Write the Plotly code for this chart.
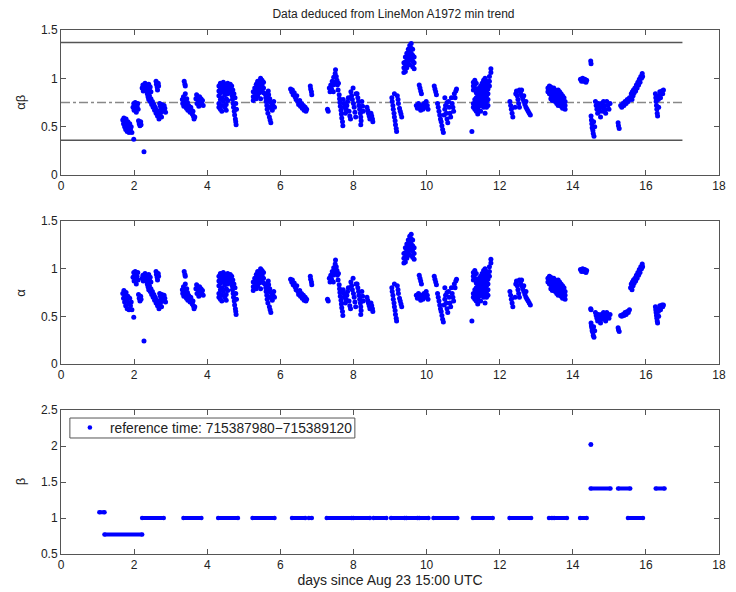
import plotly.graph_objects as go

title_text = "Data deduced from LineMon A1972 min trend"
x_label = "days since Aug 23 15:00 UTC"
legend_text = "reference time: 715387980\u2212715389120"
x_ticks = [0, 2, 4, 6, 8, 10, 12, 14, 16, 18]

# (day, value) points where beta == 1: identical in the alpha*beta and alpha panels
shared_pts = [
    (2.27, 0.24),
    (2.22, 0.90), (2.24, 0.93), (2.25, 0.87), (2.28, 0.91), (2.30, 0.95), (2.32, 0.88), (2.34, 0.92),
    (2.36, 0.86), (2.38, 0.90), (2.40, 0.94), (2.42, 0.88), (2.44, 0.91), (2.46, 0.86),
    (2.36, 0.84), (2.38, 0.81), (2.40, 0.78), (2.42, 0.82), (2.44, 0.76), (2.46, 0.79), (2.48, 0.73),
    (2.50, 0.76), (2.52, 0.70), (2.54, 0.73), (2.56, 0.67), (2.58, 0.70), (2.60, 0.64), (2.62, 0.67),
    (2.64, 0.61), (2.66, 0.64), (2.68, 0.58), (2.70, 0.61), (2.72, 0.64), (2.75, 0.60), (2.78, 0.66),
    (2.60, 0.97), (2.61, 0.94), (2.63, 0.91), (2.64, 0.88), (2.66, 0.95), (2.67, 0.92),
    (2.70, 0.74), (2.72, 0.71), (2.74, 0.68), (2.76, 0.73), (2.78, 0.70), (2.80, 0.67), (2.82, 0.72),
    (2.84, 0.69), (2.86, 0.65),
    (3.37, 0.97), (3.39, 0.94), (3.40, 0.92),
    (3.32, 0.78), (3.33, 0.74), (3.35, 0.81), (3.36, 0.71), (3.38, 0.77), (3.40, 0.84), (3.41, 0.73),
    (3.43, 0.69), (3.44, 0.79), (3.46, 0.75), (3.47, 0.67), (3.49, 0.72), (3.51, 0.69), (3.53, 0.65),
    (3.55, 0.70), (3.57, 0.67), (3.59, 0.63), (3.61, 0.66),
    (3.62, 0.61), (3.64, 0.58), (3.66, 0.60),
    (3.69, 0.79), (3.71, 0.83), (3.72, 0.74), (3.74, 0.80), (3.76, 0.77), (3.77, 0.71), (3.79, 0.81),
    (3.81, 0.76), (3.83, 0.79), (3.85, 0.74), (3.87, 0.77), (3.89, 0.72),
    (4.32, 0.92), (4.32, 0.87), (4.32, 0.82), (4.32, 0.74), (4.32, 0.70),
    (4.36, 0.95), (4.36, 0.90), (4.36, 0.85), (4.36, 0.78), (4.36, 0.68),
    (4.40, 0.93), (4.40, 0.88), (4.40, 0.80), (4.40, 0.72), (4.40, 0.66),
    (4.44, 0.96), (4.44, 0.91), (4.44, 0.86), (4.44, 0.76),
    (4.48, 0.94), (4.48, 0.89), (4.48, 0.83), (4.48, 0.70),
    (4.52, 0.92), (4.52, 0.86), (4.52, 0.79), (4.52, 0.73), (4.52, 0.67),
    (4.56, 0.95), (4.56, 0.90), (4.56, 0.84), (4.56, 0.77),
    (4.60, 0.93), (4.60, 0.88),
    (4.63, 0.94), (4.64, 0.90), (4.65, 0.86), (4.67, 0.92), (4.68, 0.82), (4.69, 0.78), (4.70, 0.88),
    (4.71, 0.74), (4.72, 0.70), (4.73, 0.84), (4.74, 0.66), (4.75, 0.62), (4.76, 0.80), (4.77, 0.58),
    (4.78, 0.55), (4.79, 0.52), (4.78, 0.74), (4.80, 0.68),
    (5.26, 0.86), (5.26, 0.81), (5.26, 0.77),
    (5.30, 0.90), (5.30, 0.85), (5.30, 0.80),
    (5.34, 0.94), (5.34, 0.89), (5.34, 0.84), (5.34, 0.79),
    (5.38, 0.97), (5.38, 0.92), (5.38, 0.87), (5.38, 0.82),
    (5.42, 0.95), (5.42, 0.90), (5.42, 0.85),
    (5.46, 1.00), (5.46, 0.96), (5.46, 0.91), (5.46, 0.86), (5.46, 0.79),
    (5.50, 0.98), (5.50, 0.93), (5.50, 0.88),
    (5.54, 0.96), (5.54, 0.90), (5.54, 0.85),
    (5.58, 0.84), (5.60, 0.80), (5.61, 0.76), (5.63, 0.72), (5.64, 0.68), (5.66, 0.64), (5.67, 0.87),
    (5.68, 0.83), (5.70, 0.60), (5.71, 0.79), (5.72, 0.57), (5.74, 0.54), (5.74, 0.75), (5.76, 0.71),
    (5.78, 0.67), (5.80, 0.72), (5.82, 0.76), (5.84, 0.70), (5.70, 0.70), (5.66, 0.76),
    (6.28, 0.89), (6.31, 0.86), (6.33, 0.88), (6.35, 0.83), (6.38, 0.85), (6.40, 0.81), (6.43, 0.78),
    (6.45, 0.82), (6.48, 0.76), (6.50, 0.73), (6.53, 0.77), (6.55, 0.71), (6.58, 0.74), (6.60, 0.69),
    (6.63, 0.72), (6.65, 0.67), (6.68, 0.70), (6.70, 0.66), (6.72, 0.68),
    (6.82, 0.92), (6.83, 0.89), (6.85, 0.86), (6.86, 0.83),
    (7.29, 0.68), (7.31, 0.66),
    (7.34, 0.90), (7.36, 0.86), (7.38, 0.93), (7.40, 0.89), (7.42, 0.97), (7.44, 0.93), (7.46, 1.01),
    (7.48, 0.96), (7.50, 1.05), (7.51, 1.09), (7.53, 1.02), (7.55, 0.98), (7.56, 0.93), (7.58, 0.88),
    (7.59, 0.95), (7.45, 0.86),
    (7.61, 0.83), (7.62, 0.79), (7.63, 0.75), (7.64, 0.71), (7.66, 0.67), (7.67, 0.63), (7.68, 0.59),
    (7.70, 0.55), (7.71, 0.51), (7.72, 0.78), (7.74, 0.74), (7.75, 0.70),
    (7.78, 0.64), (7.80, 0.68), (7.82, 0.72), (7.84, 0.76), (7.86, 0.80), (7.88, 0.66), (7.90, 0.61),
    (7.92, 0.58), (7.93, 0.86), (7.95, 0.82), (7.97, 0.78), (7.99, 0.90), (8.00, 0.74), (8.02, 0.70),
    (8.04, 0.65), (8.06, 0.60), (8.07, 0.84),
    (8.10, 0.84), (8.12, 0.80), (8.14, 0.76), (8.15, 0.72), (8.17, 0.68), (8.19, 0.64), (8.20, 0.60),
    (8.21, 0.56), (8.20, 0.52), (8.23, 0.76), (8.25, 0.71), (8.27, 0.66),
    (8.37, 0.70), (8.39, 0.67), (8.41, 0.64), (8.43, 0.61), (8.45, 0.58), (8.48, 0.64), (8.50, 0.61),
    (8.52, 0.58), (8.53, 0.55),
    (9.05, 0.80), (9.06, 0.76), (9.08, 0.72), (9.09, 0.68), (9.11, 0.64), (9.12, 0.60), (9.14, 0.56),
    (9.15, 0.52), (9.17, 0.48), (9.18, 0.45), (9.12, 0.84), (9.20, 0.82), (9.22, 0.78), (9.23, 0.74),
    (9.26, 0.69), (9.28, 0.66), (9.30, 0.63), (9.32, 0.60),
    (9.38, 1.16), (9.38, 1.11), (9.38, 1.06),
    (9.42, 1.22), (9.42, 1.17), (9.42, 1.12), (9.42, 1.07),
    (9.46, 1.26), (9.46, 1.21), (9.46, 1.16), (9.46, 1.11),
    (9.50, 1.30), (9.50, 1.25), (9.50, 1.20), (9.50, 1.15),
    (9.54, 1.34), (9.54, 1.29), (9.54, 1.24), (9.54, 1.19), (9.54, 1.14),
    (9.58, 1.36), (9.58, 1.31), (9.58, 1.26), (9.58, 1.21),
    (9.62, 1.30), (9.62, 1.24), (9.62, 1.18), (9.62, 1.12),
    (9.66, 1.22), (9.66, 1.16), (9.66, 1.10),
    (9.80, 0.93), (9.82, 0.90), (9.84, 0.87), (9.86, 0.84),
    (9.72, 0.72), (9.75, 0.69), (9.78, 0.74), (9.81, 0.70), (9.84, 0.67), (9.87, 0.72), (9.90, 0.68),
    (9.93, 0.74), (9.96, 0.70), (9.99, 0.76), (10.02, 0.72), (10.04, 0.68),
    (10.21, 0.92), (10.23, 0.89), (10.25, 0.86), (10.27, 0.83),
    (10.30, 0.74), (10.32, 0.70), (10.34, 0.66), (10.36, 0.62), (10.38, 0.58), (10.40, 0.55),
    (10.42, 0.51), (10.44, 0.47), (10.46, 0.44), (10.48, 0.62), (10.50, 0.68), (10.50, 0.80),
    (10.52, 0.72), (10.54, 0.64), (10.56, 0.58), (10.58, 0.54), (10.60, 0.76), (10.62, 0.70),
    (10.64, 0.64), (10.66, 0.60), (10.68, 0.80), (10.70, 0.74), (10.72, 0.70), (10.74, 0.66),
    (10.76, 0.84), (10.78, 0.80), (10.80, 0.87), (10.82, 0.89), (10.56, 0.75),
    (11.24, 0.45),
    (11.28, 0.96), (11.28, 0.92), (11.28, 0.88), (11.28, 0.74), (11.28, 0.70),
    (11.32, 0.98), (11.32, 0.94), (11.32, 0.90), (11.32, 0.78), (11.32, 0.72), (11.32, 0.68),
    (11.36, 0.95), (11.36, 0.85), (11.36, 0.80), (11.36, 0.75), (11.36, 0.70), (11.36, 0.66),
    (11.40, 0.88), (11.40, 0.83), (11.40, 0.78), (11.40, 0.73), (11.40, 0.68), (11.40, 0.63),
    (11.44, 0.90), (11.44, 0.86), (11.44, 0.81), (11.44, 0.76), (11.44, 0.71),
    (11.48, 0.92), (11.48, 0.87), (11.48, 0.82), (11.48, 0.77), (11.48, 0.72), (11.48, 0.66),
    (11.52, 0.95), (11.52, 0.90), (11.52, 0.85), (11.52, 0.80), (11.52, 0.74),
    (11.56, 0.98), (11.56, 0.93), (11.56, 0.88), (11.56, 0.83), (11.56, 0.77), (11.56, 0.70),
    (11.60, 1.00), (11.60, 0.95), (11.60, 0.90), (11.60, 0.85), (11.60, 0.80), (11.60, 0.74), (11.60, 0.64),
    (11.64, 0.97), (11.64, 0.92), (11.64, 0.87), (11.64, 0.82), (11.64, 0.76), (11.64, 0.70),
    (11.68, 0.94), (11.68, 0.89), (11.68, 0.84), (11.68, 0.78), (11.68, 0.72),
    (11.72, 1.02), (11.72, 0.97), (11.72, 0.92),
    (11.76, 1.06), (11.76, 1.10),
    (12.28, 0.76), (12.30, 0.72), (12.32, 0.68), (12.34, 0.64), (12.36, 0.60), (12.42, 0.70),
    (12.44, 0.84), (12.46, 0.87), (12.48, 0.82), (12.50, 0.78), (12.52, 0.74), (12.54, 0.70),
    (12.54, 0.88), (12.57, 0.85), (12.60, 0.82), (12.63, 0.79), (12.66, 0.76), (12.69, 0.73),
    (12.72, 0.70), (12.75, 0.68), (12.78, 0.66), (12.81, 0.64), (12.84, 0.62), (12.60, 0.88),
    (12.66, 0.82), (12.72, 0.76),
    (13.32, 0.90), (13.32, 0.86),
    (13.36, 0.92), (13.36, 0.88), (13.36, 0.84),
    (13.40, 0.91), (13.40, 0.87), (13.40, 0.83), (13.40, 0.79),
    (13.44, 0.89), (13.44, 0.85), (13.44, 0.81), (13.44, 0.77),
    (13.48, 0.90), (13.48, 0.86), (13.48, 0.82), (13.48, 0.78),
    (13.52, 0.88), (13.52, 0.84), (13.52, 0.80), (13.52, 0.76),
    (13.56, 0.86), (13.56, 0.82), (13.56, 0.78), (13.56, 0.74),
    (13.60, 0.88), (13.60, 0.84), (13.60, 0.80), (13.60, 0.76), (13.60, 0.72),
    (13.64, 0.86), (13.64, 0.82), (13.64, 0.78), (13.64, 0.74),
    (13.68, 0.84), (13.68, 0.80), (13.68, 0.76), (13.68, 0.71),
    (13.72, 0.82), (13.72, 0.78), (13.72, 0.74), (13.72, 0.69),
    (13.76, 0.80), (13.76, 0.75), (13.76, 0.70),
    (13.79, 0.76), (13.79, 0.72), (13.79, 0.68),
    (14.21, 0.99), (14.24, 0.97), (14.27, 1.00), (14.30, 0.97), (14.33, 0.99), (14.36, 0.96), (14.38, 0.98),
    (15.58, 0.80), (15.60, 0.84), (15.62, 0.78), (15.63, 0.86), (15.65, 0.82), (15.66, 0.88),
    (15.68, 0.85), (15.70, 0.90), (15.72, 0.87), (15.74, 0.93), (15.76, 0.90), (15.78, 0.96),
    (15.80, 0.93), (15.82, 0.99), (15.84, 0.96), (15.86, 1.02), (15.88, 1.00), (15.90, 1.05), (15.91, 1.02),
]
shared_x = [p[0] for p in shared_pts]
shared_y = [p[1] for p in shared_pts]

# days of the points where beta != 1
other_x = [1.69, 1.71, 1.72, 1.74, 1.75, 1.77, 1.78, 1.80, 1.81, 1.83, 1.85, 1.86, 1.88, 1.90, 1.92, 1.94,
           1.99,
           1.97, 1.99, 2.00, 2.02, 2.03, 2.05, 2.06, 2.08, 2.10, 2.11,
           2.12, 2.14, 2.16, 2.18, 2.19,
           14.49, 14.50,
           14.50, 14.51, 14.52, 14.53, 14.55, 14.56, 14.58, 14.60, 14.57,
           14.62, 14.64, 14.66, 14.68, 14.70, 14.72, 14.74, 14.76, 14.78, 14.80, 14.82, 14.84, 14.86,
           14.88, 14.90, 14.93, 14.96, 14.99, 15.02,
           15.24, 15.25, 15.27,
           15.31, 15.34, 15.37, 15.40, 15.43, 15.46, 15.49, 15.52, 15.55,
           16.26, 16.27, 16.28, 16.29, 16.30, 16.31, 16.32, 16.34, 16.36, 16.38, 16.40, 16.42, 16.44,
           16.46, 16.48, 16.35]
# alpha*beta at those days
ab_other_y = [0.57, 0.53, 0.59, 0.50, 0.55, 0.47, 0.58, 0.52, 0.45, 0.55, 0.49, 0.44, 0.53, 0.47, 0.50, 0.44,
              0.37,
              0.70, 0.74, 0.67, 0.72, 0.75, 0.69, 0.65, 0.71, 0.74, 0.68,
              0.56, 0.53, 0.51, 0.55, 0.52,
              1.18, 1.15,
              0.61, 0.57, 0.53, 0.49, 0.46, 0.43, 0.40, 0.50, 0.55,
              0.76, 0.72, 0.68, 0.64, 0.74, 0.70, 0.66, 0.60, 0.74, 0.70, 0.66, 0.76, 0.72,
              0.68, 0.64, 0.76, 0.72, 0.68, 0.74,
              0.54, 0.51, 0.48,
              0.72, 0.70, 0.74, 0.72, 0.76, 0.74, 0.78, 0.76, 0.80,
              0.84, 0.80, 0.76, 0.72, 0.68, 0.64, 0.61, 0.78, 0.82, 0.86, 0.80, 0.84, 0.87,
              0.84, 0.88, 0.70]
# alpha at those days
a_other_y = [0.74, 0.69, 0.77, 0.65, 0.71, 0.61, 0.75, 0.68, 0.58, 0.71, 0.64, 0.57, 0.69, 0.61, 0.65, 0.57,
             0.49,
             0.91, 0.96, 0.87, 0.94, 0.97, 0.90, 0.84, 0.92, 0.96, 0.88,
             0.73, 0.69, 0.66, 0.71, 0.68,
             0.58, 0.57,
             0.43, 0.40, 0.38, 0.35, 0.33, 0.30, 0.28, 0.35, 0.39,
             0.54, 0.51, 0.48, 0.45, 0.52, 0.50, 0.47, 0.43, 0.52, 0.50, 0.47, 0.54, 0.51,
             0.48, 0.45, 0.54, 0.51, 0.48, 0.52,
             0.38, 0.36, 0.34,
             0.51, 0.50, 0.52, 0.51, 0.54, 0.52, 0.55, 0.54, 0.57,
             0.60, 0.57, 0.54, 0.51, 0.48, 0.45, 0.43, 0.55, 0.58, 0.61, 0.57, 0.60, 0.62,
             0.60, 0.62, 0.50]

# beta: runs of constant value
beta_start = [1.05, 1.19, 2.22, 3.35, 4.30, 5.24, 6.32, 6.78, 7.27, 8.00, 8.55, 9.03, 9.45,
              9.80, 10.19, 11.27, 12.27, 13.35, 13.49, 14.20, 14.49, 14.49, 15.24, 15.51, 16.27]
beta_end = [1.19, 2.22, 2.81, 3.84, 4.84, 5.84, 6.68, 6.86, 7.95, 8.45, 8.90, 9.40, 9.75,
            10.05, 10.84, 11.81, 12.86, 13.43, 13.84, 14.38, 14.50, 15.03, 15.57, 15.92, 16.51]
beta_val = [1.08, 0.77, 1.0, 1.0, 1.0, 1.0, 1.0, 1.0, 1.0, 1.0, 1.0, 1.0, 1.0,
            1.0, 1.0, 1.0, 1.0, 1.0, 1.0, 1.0, 2.02, 1.41, 1.41, 1.0, 1.41]

# reference lines of the alpha*beta panel
ref_x = [0, 17]
ref_upper = [1.37, 1.37]
ref_mean = [0.75, 0.75]
ref_lower = [0.36, 0.36]

BLUE = "#0000ff"
FONT = "Liberation Sans, Arial, Helvetica, sans-serif"
TXT = "#222222"
AX = "#555555"
MS = 5

fig = go.Figure()

for yv, dash, col in [(ref_upper, "solid", "#555555"), (ref_lower, "solid", "#555555"),
                      (ref_mean, "dashdot", "#888888")]:
    fig.add_trace(go.Scatter(x=ref_x, y=yv, mode="lines", line=dict(color=col, width=1.5, dash=dash),
                             showlegend=False, hoverinfo="skip", xaxis="x", yaxis="y"))

fig.add_trace(go.Scatter(x=shared_x, y=shared_y, mode="markers", marker=dict(color=BLUE, size=MS),
                         showlegend=False, xaxis="x", yaxis="y"))
fig.add_trace(go.Scatter(x=other_x, y=ab_other_y, mode="markers", marker=dict(color=BLUE, size=MS),
                         showlegend=False, xaxis="x", yaxis="y"))

fig.add_trace(go.Scatter(x=shared_x, y=shared_y, mode="markers", marker=dict(color=BLUE, size=MS),
                         showlegend=False, xaxis="x2", yaxis="y2"))
fig.add_trace(go.Scatter(x=other_x, y=a_other_y, mode="markers", marker=dict(color=BLUE, size=MS),
                         showlegend=False, xaxis="x2", yaxis="y2"))

seg_x, seg_y, end_x, end_y = [], [], [], []
for s, e, v in zip(beta_start, beta_end, beta_val):
    seg_x += [s, e, None]
    seg_y += [v, v, None]
    end_x += [s, e]
    end_y += [v, v]
fig.add_trace(go.Scatter(x=seg_x, y=seg_y, mode="lines", line=dict(color=BLUE, width=4),
                         showlegend=False, xaxis="x3", yaxis="y3", connectgaps=False))
fig.add_trace(go.Scatter(x=end_x, y=end_y, mode="markers", marker=dict(color=BLUE, size=4.6),
                         name=legend_text, showlegend=True, xaxis="x3", yaxis="y3"))


def xax(anchor, show_title=False):
    d = dict(domain=[0, 1], range=[0, 18], tickvals=x_ticks, ticks="inside", ticklen=5,
             tickcolor=AX, showline=True, linecolor=AX, linewidth=1, mirror="ticks",
             showgrid=False, zeroline=False, anchor=anchor,
             tickfont=dict(family=FONT, size=12, color=TXT))
    if show_title:
        d["title"] = dict(text=x_label, font=dict(family=FONT, size=14, color=TXT), standoff=0)
    return d


def yax(anchor, dom, rng, tv):
    return dict(domain=dom, range=rng, tickvals=tv, ticks="inside", ticklen=5,
                tickcolor=AX, showline=True, linecolor=AX, linewidth=1, mirror="ticks",
                showgrid=False, zeroline=False, anchor=anchor,
                tickfont=dict(family=FONT, size=12, color=TXT))


ylab = dict(xref="paper", yref="paper", x=-0.062, textangle=-90, showarrow=False,
            font=dict(family=FONT, size=13, color=TXT), xanchor="center", yanchor="middle")

fig.update_layout(
    width=728, height=584,
    margin=dict(l=53, r=10, t=22, b=38),
    paper_bgcolor="white", plot_bgcolor="white",
    title=dict(text=title_text, x=0.5295, xanchor="center", y=0.9897, yanchor="middle",
               font=dict(family=FONT, size=12, color=TXT)),
    xaxis=xax("y"), xaxis2=xax("y2"), xaxis3=xax("y3", True),
    yaxis=yax("x", [0.7233, 1.0], [0, 1.5], [0, 0.5, 1, 1.5]),
    yaxis2=yax("x2", [0.3626, 0.6355], [0, 1.5], [0, 0.5, 1, 1.5]),
    yaxis3=yax("x3", [0.0, 0.2748], [0.5, 2.5], [0.5, 1, 1.5, 2, 2.5]),
    legend=dict(x=0.0135, y=0.2710, xanchor="left", yanchor="top", bgcolor="rgba(0,0,0,0)",
                borderwidth=0, font=dict(family=FONT, size=13.8, color=TXT)),
    shapes=[dict(type="rect", xref="paper", yref="paper", x0=0.0135, x1=0.4466, y0=0.2214, y1=0.2595,
                 line=dict(color=AX, width=1), fillcolor="rgba(0,0,0,0)")],
    annotations=[
        dict(text="\u03b1\u03b2", y=0.8617, **ylab),
        dict(text="\u03b1", y=0.499, **ylab),
        dict(text="\u03b2", y=0.1374, **ylab),
    ],
)

fig.write_html("out.html")
